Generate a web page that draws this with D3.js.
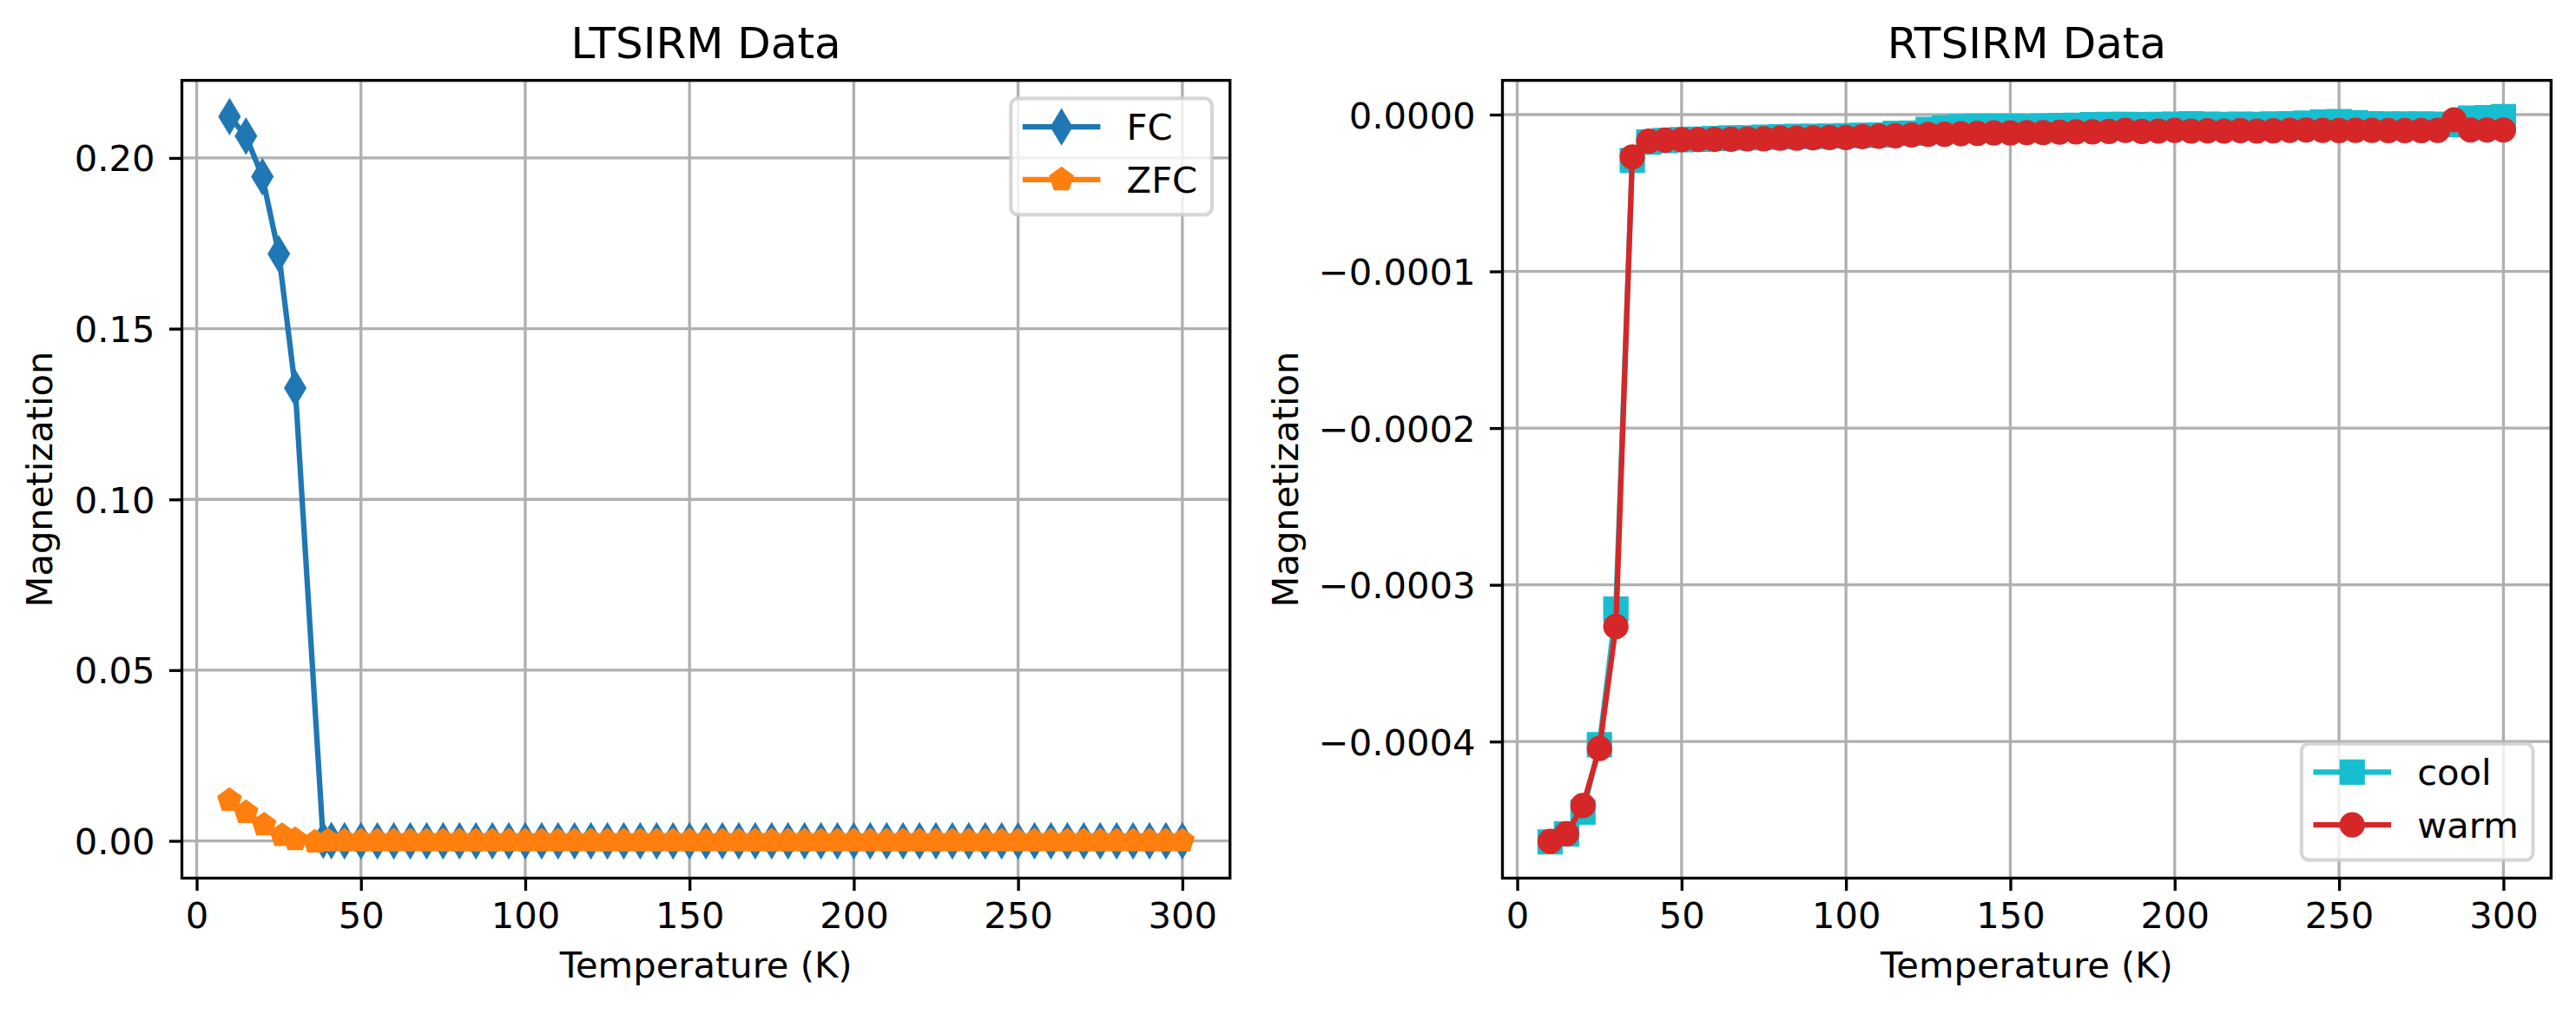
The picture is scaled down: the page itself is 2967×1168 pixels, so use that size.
<!DOCTYPE html>
<html lang="en">
<head>
<meta charset="UTF-8">
<title>LTSIRM / RTSIRM Data</title>
<script src="https://d3js.org/d3.v7.min.js"></script>
<style>
  body { margin: 0; background: #fff; }
  svg { display: block; font-family: "DejaVu Sans", sans-serif; }
</style>
</head>
<body>
<script>
// ---- data ----
const fcTemp = [10, 15, 20, 25, 30, 38.5, 41, 45, 50, 55, 60, 65, 70, 75, 80, 85, 90, 95, 100,
  105, 110, 115, 120, 125, 130, 135, 140, 145, 150, 155, 160, 165, 170, 175, 180, 185, 190, 195, 200,
  205, 210, 215, 220, 225, 230, 235, 240, 245, 250, 255, 260, 265, 270, 275, 280, 285, 290, 295, 300];
const fcMag = [0.2121, 0.2064, 0.1945, 0.1719, 0.1326, 0.0002, 0.0001, 0, 0, 0, 0, 0, 0, 0, 0, 0, 0, 0, 0,
  0, 0, 0, 0, 0, 0, 0, 0, 0, 0, 0, 0, 0, 0, 0, 0, 0, 0, 0, 0,
  0, 0, 0, 0, 0, 0, 0, 0, 0, 0, 0, 0, 0, 0, 0, 0, 0, 0, 0, 0];

const zfcTemp = [10, 15, 20.5, 26, 30, 36, 40, 45, 50, 55, 60, 65, 70, 75, 80, 85, 90, 95, 100,
  105, 110, 115, 120, 125, 130, 135, 140, 145, 150, 155, 160, 165, 170, 175, 180, 185, 190, 195, 200,
  205, 210, 215, 220, 225, 230, 235, 240, 245, 250, 255, 260, 265, 270, 275, 280, 285, 290, 295, 300];
const zfcMag = [0.0119, 0.0083, 0.0047, 0.0016, 0.0004, -0.0003, 0, 0, 0, 0, 0, 0, 0, 0, 0, 0, 0, 0, 0,
  0, 0, 0, 0, 0, 0, 0, 0, 0, 0, 0, 0, 0, 0, 0, 0, 0, 0, 0, 0,
  0, 0, 0, 0, 0, 0, 0, 0, 0, 0, 0, 0, 0, 0, 0, 0, 0, 0, 0, 0];

const rtTemp = [10, 15, 20, 25, 30, 35, 40, 45, 50, 55, 60, 65, 70, 75, 80, 85, 90, 95, 100,
  105, 110, 115, 120, 125, 130, 135, 140, 145, 150, 155, 160, 165, 170, 175, 180, 185, 190, 195, 200,
  205, 210, 215, 220, 225, 230, 235, 240, 245, 250, 255, 260, 265, 270, 275, 280, 285, 290, 295, 300];
const coolMag = [-46.4e-5, -45.9e-5, -44.5e-5, -40.2e-5, -31.55e-5, -2.92e-5, -1.75e-5, -1.65e-5, -1.6e-5, -1.57e-5,
  -1.52e-5, -1.48e-5, -1.48e-5, -1.45e-5, -1.42e-5, -1.39e-5, -1.39e-5, -1.37e-5, -1.35e-5,
  -1.32e-5, -1.3e-5, -1.2e-5, -1.18e-5, -0.95e-5, -0.83e-5, -0.76e-5, -0.74e-5, -0.74e-5, -0.74e-5, -0.76e-5,
  -0.72e-5, -0.69e-5, -0.68e-5, -0.64e-5, -0.63e-5, -0.63e-5, -0.64e-5, -0.62e-5, -0.61e-5,
  -0.59e-5, -0.61e-5, -0.62e-5, -0.61e-5, -0.62e-5, -0.6e-5, -0.58e-5, -0.55e-5, -0.47e-5, -0.45e-5,
  -0.52e-5, -0.58e-5, -0.6e-5, -0.6e-5, -0.6e-5, -0.61e-5, -0.64e-5, -0.22e-5, -0.2e-5, -0.13e-5];
const warmMag = [-46.37e-5, -45.88e-5, -44.08e-5, -40.44e-5, -32.66e-5, -2.7e-5, -1.69e-5, -1.63e-5, -1.6e-5, -1.59e-5,
  -1.58e-5, -1.57e-5, -1.55e-5, -1.54e-5, -1.5e-5, -1.5e-5, -1.48e-5, -1.46e-5, -1.46e-5,
  -1.4e-5, -1.38e-5, -1.35e-5, -1.3e-5, -1.26e-5, -1.25e-5, -1.22e-5, -1.2e-5, -1.17e-5, -1.17e-5, -1.15e-5,
  -1.15e-5, -1.12e-5, -1.1e-5, -1.1e-5, -1.07e-5, -1.0e-5, -1.07e-5, -1.05e-5, -1.0e-5,
  -1.05e-5, -1.03e-5, -1.05e-5, -1.02e-5, -1.05e-5, -1.03e-5, -1.0e-5, -0.98e-5, -1.0e-5, -1.02e-5,
  -1.0e-5, -1.0e-5, -1.02e-5, -1.02e-5, -1.02e-5, -1.0e-5, -0.33e-5, -0.98e-5, -0.98e-5, -0.98e-5];

const xTicks = [0, 50, 100, 150, 200, 250, 300];
const ltYTicks = [0, 0.05, 0.10, 0.15, 0.20];
const rtYTicks = [0, -0.0001, -0.0002, -0.0003, -0.0004];

// ---- figure constants (300 dpi, sizes in matplotlib points) ----
const W = 2967, H = 1168;
const PT = 300 / 72;
const FS = 10 * PT;
const TICK = 3.5 * PT;
const THIN = 0.8 * PT;

const svg = d3.select("body").append("svg")
  .attr("width", W)
  .attr("height", H)
  .attr("viewBox", `0 0 ${W} ${H}`);

svg.append("rect").attr("width", W).attr("height", H).attr("fill", "#fff");

// marker outlines in pixels, markersize 6pt
function markerPath(kind) {
  const s = 6 * PT;
  if (kind === "d") {
    const h = s * Math.SQRT2 / 2, w = 0.6 * h;
    return `M0,${-h}L${w},0L0,${h}L${-w},0Z`;
  }
  if (kind === "p") {
    const r = s / 2;
    const pts = d3.range(5).map(k => {
      const a = (90 + 72 * k) * Math.PI / 180;
      return [r * Math.cos(a), -r * Math.sin(a)];
    });
    return "M" + pts.map(p => p.join(",")).join("L") + "Z";
  }
  if (kind === "s") {
    const h = s / 2;
    return `M${-h},${-h}H${h}V${h}H${-h}Z`;
  }
  const r = s / 2;
  return `M${r},0A${r},${r} 0 1,1 ${-r},0A${r},${r} 0 1,1 ${r},0Z`;
}

function padDomain([lo, hi]) {
  const m = (hi - lo) * 0.05;
  return [lo - m, hi + m];
}

function drawPanel(p) {
  const allT = p.series.flatMap(s => s.temp);
  const allM = p.series.flatMap(s => s.mag);
  const x = d3.scaleLinear().domain(padDomain(d3.extent(allT))).range([p.left, p.right]);
  const y = d3.scaleLinear().domain(padDomain(d3.extent(allM))).range([p.bottom, p.top]);

  const g = svg.append("g");

  // grid
  const grid = g.append("g").attr("stroke", "#b0b0b0").attr("stroke-width", THIN);
  grid.selectAll(".gx").data(xTicks).join("line")
    .attr("x1", d => x(d)).attr("x2", d => x(d))
    .attr("y1", p.top).attr("y2", p.bottom);
  grid.selectAll(".gy").data(p.yTicks).join("line")
    .attr("y1", d => y(d)).attr("y2", d => y(d))
    .attr("x1", p.left).attr("x2", p.right);

  // series: line then markers, in plotting order
  const line = d3.line().x((d, i) => d[0]).y(d => d[1]);
  p.series.forEach(s => {
    const pts = s.temp.map((t, i) => [x(t), y(s.mag[i])]);
    g.append("path")
      .attr("d", line(pts))
      .attr("fill", "none")
      .attr("stroke", s.color)
      .attr("stroke-width", 1.5 * PT)
      .attr("stroke-linejoin", "round")
      .attr("stroke-linecap", "square");
    g.append("g").selectAll("path").data(pts).join("path")
      .attr("transform", d => `translate(${d[0]},${d[1]})`)
      .attr("d", markerPath(s.marker))
      .attr("fill", s.color)
      .attr("stroke", s.color)
      .attr("stroke-width", 1 * PT)
      .attr("stroke-linejoin", "miter");
  });

  // axes
  const xAxis = g.append("g")
    .attr("transform", `translate(0,${p.bottom})`)
    .call(d3.axisBottom(x).tickValues(xTicks).tickSize(TICK).tickPadding(13.5).tickFormat(d3.format("d")));
  const yAxis = g.append("g")
    .attr("transform", `translate(${p.left},0)`)
    .call(d3.axisLeft(y).tickValues(p.yTicks).tickSize(TICK).tickPadding(16.4).tickFormat(d3.format(p.yFormat)));
  [xAxis, yAxis].forEach(a => {
    a.select(".domain").remove();
    a.selectAll(".tick line").attr("stroke", "#000").attr("stroke-width", THIN);
    a.selectAll(".tick text")
      .attr("fill", "#000")
      .style("font-family", "'DejaVu Sans', sans-serif")
      .style("font-size", FS + "px");
  });
  yAxis.selectAll(".tick text").attr("dy", "0.36em");

  // spines
  g.append("rect")
    .attr("x", p.left).attr("y", p.top)
    .attr("width", p.right - p.left).attr("height", p.bottom - p.top)
    .attr("fill", "none").attr("stroke", "#000").attr("stroke-width", THIN);

  // labels
  const cx = (p.left + p.right) / 2;
  g.append("text")
    .attr("x", cx).attr("y", 67)
    .attr("text-anchor", "middle")
    .style("font-size", 12 * PT + "px")
    .text(p.title);
  g.append("text")
    .attr("x", cx).attr("y", 1126)
    .attr("text-anchor", "middle")
    .style("font-size", FS + "px")
    .text("Temperature (K)");
  g.append("text")
    .attr("transform", `translate(${p.ylabelX},${(p.top + p.bottom) / 2}) rotate(-90)`)
    .attr("text-anchor", "middle")
    .style("font-size", FS + "px")
    .text("Magnetization");

  // legend
  const pad = 0.5 * FS;
  const border = 0.4 * FS;
  const handleLen = 2 * FS;
  const textPad = 0.8 * FS;
  const legH = 134;
  const lg = g.append("g");
  const box = lg.append("rect")
    .attr("rx", 0.2 * FS).attr("ry", 0.2 * FS)
    .attr("fill", "rgba(255,255,255,0.8)")
    .attr("stroke", "rgba(204,204,204,0.8)")
    .attr("stroke-width", 1 * PT);
  const rows = lg.selectAll(".row").data(p.series).join("g");
  const labels = rows.append("text")
    .style("font-size", FS + "px")
    .text(d => d.label);
  const textW = d3.max(labels.nodes(), n => n.getComputedTextLength());
  const legW = border + handleLen + textPad + textW + border;
  const legX = p.right - pad - legW;
  const legY = p.legend === "upper right" ? p.top + pad : p.bottom - pad - legH;
  box.attr("x", legX).attr("y", legY).attr("width", legW).attr("height", legH);
  rows.attr("transform", (d, i) => `translate(${legX + border},${legY + 32.7 + i * 60.8})`);
  rows.insert("line", "text")
    .attr("x1", 0).attr("x2", handleLen)
    .attr("stroke", d => d.color)
    .attr("stroke-width", 1.5 * PT)
    .attr("stroke-linecap", "square");
  rows.insert("path", "text")
    .attr("transform", `translate(${handleLen / 2},0)`)
    .attr("d", d => markerPath(d.marker))
    .attr("fill", d => d.color)
    .attr("stroke", d => d.color)
    .attr("stroke-width", 1 * PT);
  labels.attr("x", handleLen + textPad).attr("y", 14.8);
}

drawPanel({
  left: 209.5, right: 1416.7, top: 92.6, bottom: 1011.5,
  title: "LTSIRM Data",
  yTicks: ltYTicks, yFormat: ".2f",
  ylabelX: 60,
  legend: "upper right",
  series: [
    { temp: fcTemp, mag: fcMag, color: "#1f77b4", marker: "d", label: "FC" },
    { temp: zfcTemp, mag: zfcMag, color: "#ff7f0e", marker: "p", label: "ZFC" }
  ]
});

drawPanel({
  left: 1730.5, right: 2938.3, top: 92.6, bottom: 1011.5,
  title: "RTSIRM Data",
  yTicks: rtYTicks, yFormat: ".4f",
  ylabelX: 1495,
  legend: "lower right",
  series: [
    { temp: rtTemp, mag: coolMag, color: "#17becf", marker: "s", label: "cool" },
    { temp: rtTemp, mag: warmMag, color: "#d62728", marker: "o", label: "warm" }
  ]
});
</script>
</body>
</html>
